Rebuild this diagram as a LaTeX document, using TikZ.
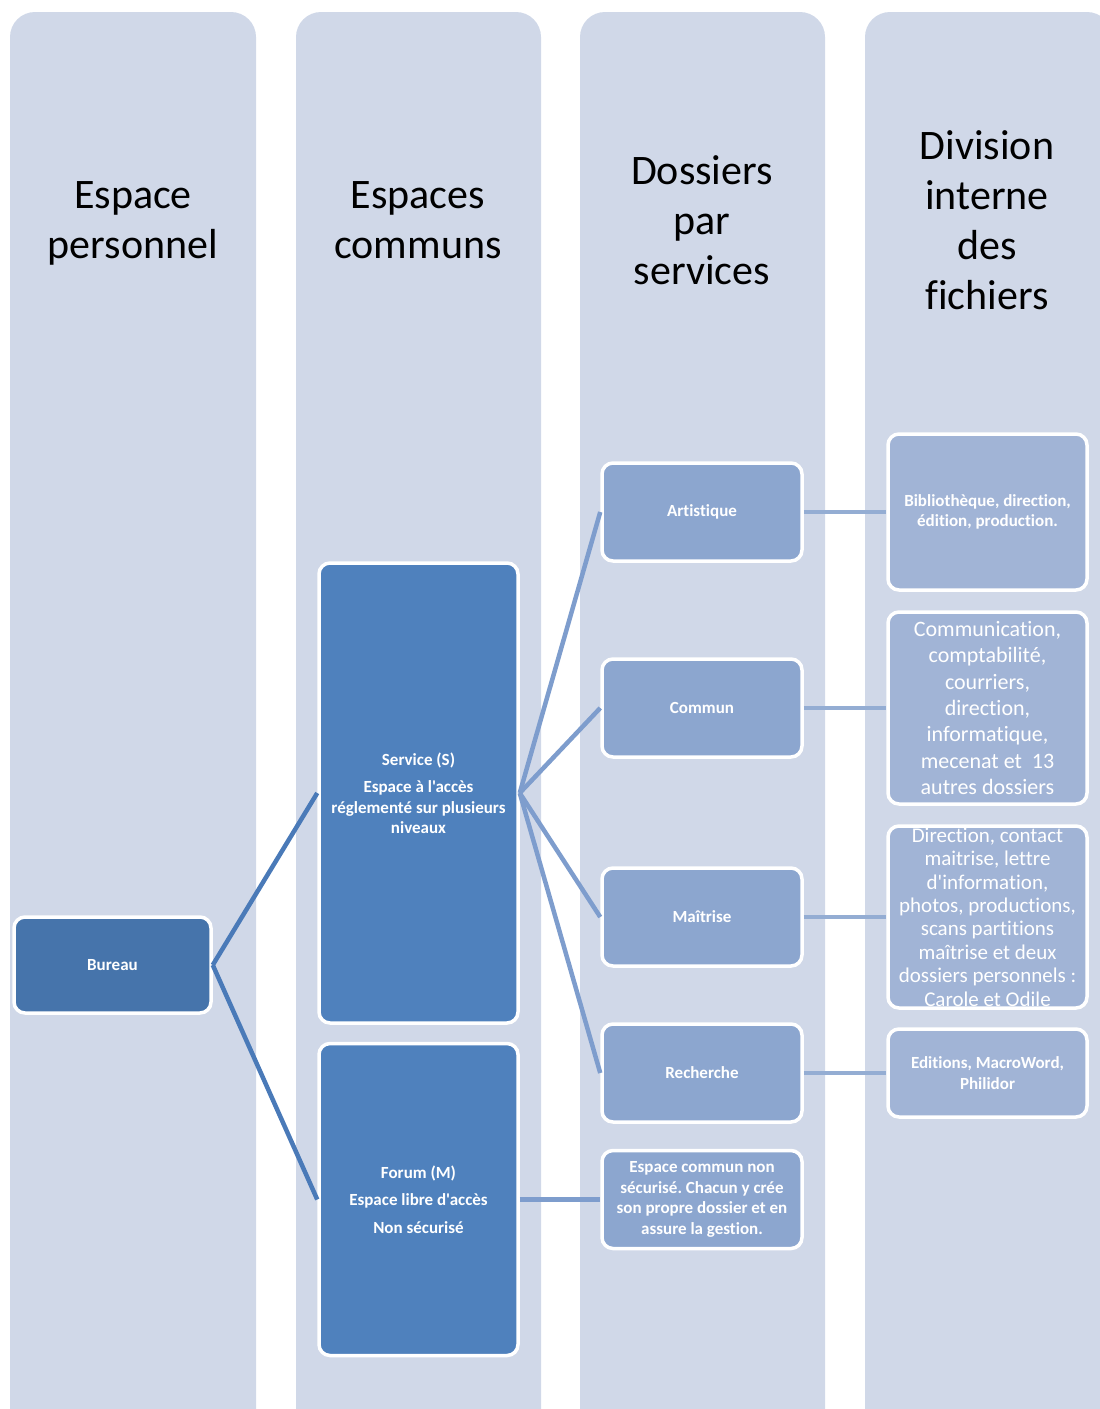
\documentclass[tikz,border=0pt]{standalone}
\usepackage{fontspec}
\setmainfont{Carlito}[Ligatures={TeXOff,CommonOff}]
\definecolor{colbg}{HTML}{D0D8E8}
\definecolor{bureaublue}{HTML}{4674AB}
\definecolor{spaceblue}{HTML}{4F81BD}
\definecolor{dossblue}{HTML}{8CA6CF}
\definecolor{filesblue}{HTML}{A1B4D6}
\definecolor{linkdark}{HTML}{4A7AB8}
\definecolor{linkmid}{HTML}{7E9DCD}
\definecolor{linklight}{HTML}{94ADD3}
\frenchspacing

\begin{document}
\begin{tikzpicture}[x=1pt, y=-1pt,
  column/.style={fill=colbg, rounded corners=25pt},
  heading/.style={align=center, text=black, font=\fontsize{42}{50}\selectfont},
  box/.style={draw=white, line width=3.5pt, rounded corners=11pt, text=white, align=center, inner sep=0pt},
  small/.style={font=\fontsize{17}{20.5}\selectfont\bfseries},
  link/.style={line width=4.5pt}]
\useasboundingbox (0,0) rectangle (1100,1409);
\clip (0,0) rectangle (1100,1409);
\fill[column] (10,12) rectangle (256,1440);
\fill[column] (296,12) rectangle (541,1440);
\fill[column] (580,12) rectangle (825,1440);
\fill[column] (865,12) rectangle (1112,1440);

\node[heading] (hperso) at (133,223){Espace\\personnel};
\node[heading] (hcommuns) at (418,220){Espaces\\communs};
\node[heading] (hdossiers) at (702,220){Dossiers\\par\\services};
\node[heading] (hdivision) at (987,220){Division\\interne\\des\\fichiers};

\node[box, small, fill=bureaublue, minimum width=197, minimum height=96] (bureau) at (112.5,965){Bureau};
\node[box, small, fill=spaceblue, minimum width=199, minimum height=460] (service) at (418.5,793){Service (S)\\[7pt]Espace à l'accès\\réglementé sur plusieurs\\niveaux};
\node[box, small, fill=spaceblue, minimum width=199, minimum height=312] (forum) at (418.5,1199.5){Forum (M)\\[7pt]Espace libre d'accès\\[7pt]Non sécurisé};

\node[box, small, fill=dossblue, minimum width=200, minimum height=98] (artistique) at (702,512){Artistique};
\node[box, small, fill=dossblue, minimum width=200, minimum height=98] (commun) at (702,708){Commun};
\node[box, small, fill=dossblue, minimum width=200, minimum height=98] (maitrise) at (702,917){Maîtrise};
\node[box, small, fill=dossblue, minimum width=200, minimum height=98] (recherche) at (702,1073){Recherche};
\node[box, small, fill=dossblue, minimum width=200, minimum height=98] (libre) at (702,1199.5){Espace commun non\\sécurisé. Chacun y crée\\son propre dossier et en\\assure la gestion.};

\node[box, small, fill=filesblue, minimum width=199, minimum height=156] (fart) at (987.5,512){Bibliothèque, direction,\\édition, production.};
\node[box, fill=filesblue, minimum width=199, minimum height=192, font=\fontsize{22}{26.3}\selectfont] (fcommun) at (987.5,708){Communication,\\comptabilité,\\courriers,\\direction,\\informatique,\\mecenat et~~13\\autres dossiers};
\node[box, fill=filesblue, minimum width=199, minimum height=182, font=\fontsize{21}{23.4}\selectfont] (fmaitrise) at (987.5,917){Direction, contact\\maitrise, lettre\\d'information,\\photos, productions,\\scans partitions\\maîtrise et deux\\dossiers personnels :\\Carole et Odile};
\node[box, small, fill=filesblue, minimum width=199, minimum height=88] (frecherche) at (987.5,1073){Editions, MacroWord,\\Philidor};

\draw[link, linkdark](bureau.east) -- (service.west);
\draw[link, linkdark](bureau.east) -- (forum.west);
\draw[link, linkmid](service.east) -- (artistique.west);
\draw[link, linkmid](service.east) -- (commun.west);
\draw[link, linkmid](service.east) -- (maitrise.west);
\draw[link, linkmid](service.east) -- (recherche.west);
\draw[link, linkmid](forum.east) -- (libre.west);
\draw[link, linklight](artistique.east) -- (fart.west);
\draw[link, linklight](commun.east) -- (fcommun.west);
\draw[link, linklight](maitrise.east) -- (fmaitrise.west);
\draw[link, linklight](recherche.east) -- (frecherche.west);

\end{tikzpicture}
\end{document}
